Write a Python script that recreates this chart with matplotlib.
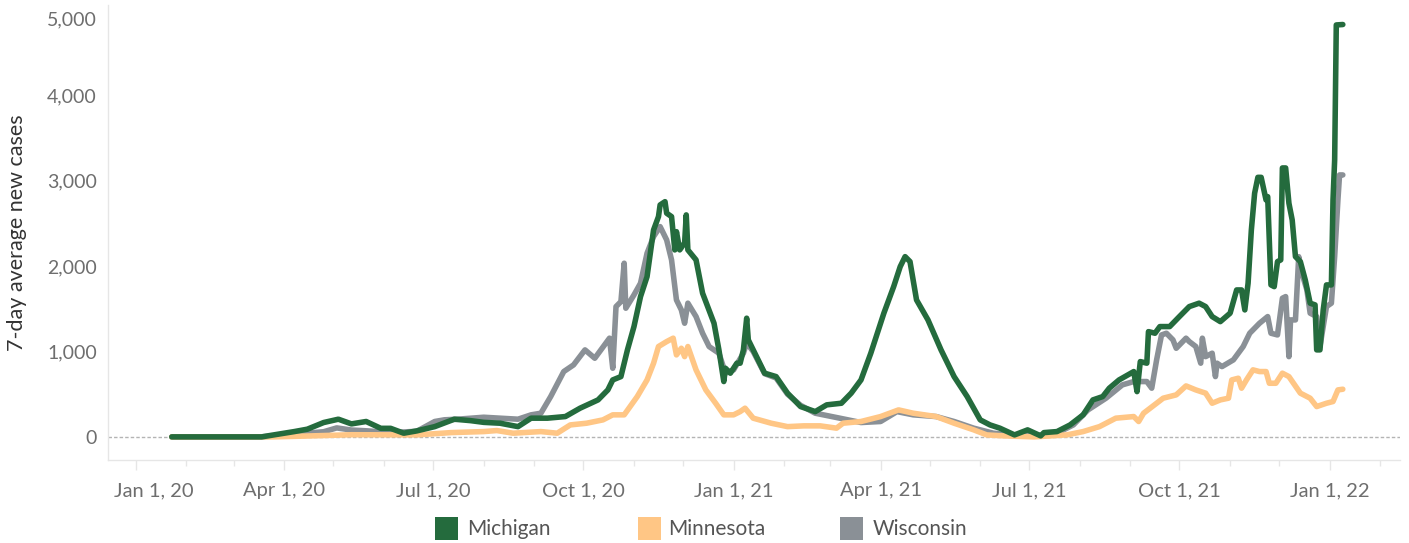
import matplotlib
matplotlib.use("Agg")
import matplotlib.pyplot as plt
import matplotlib.dates as mdates
from matplotlib.patches import Rectangle
from matplotlib.ticker import FuncFormatter
from matplotlib.transforms import ScaledTranslation
import pandas as pd

# 7-day average new cases
mi_dates = [
    "2020-01-23", "2020-03-18", "2020-04-07", "2020-04-15", "2020-04-25", "2020-05-04",
    "2020-05-12", "2020-05-21", "2020-05-30", "2020-06-05", "2020-06-13", "2020-06-21",
    "2020-07-02", "2020-07-14", "2020-07-24", "2020-08-01", "2020-08-11", "2020-08-22",
    "2020-08-30", "2020-09-09", "2020-09-20", "2020-09-29", "2020-10-10", "2020-10-16",
    "2020-10-19", "2020-10-24", "2020-10-28", "2020-11-01", "2020-11-05", "2020-11-09",
    "2020-11-13", "2020-11-16", "2020-11-17", "2020-11-20", "2020-11-21", "2020-11-24",
    "2020-11-26", "2020-11-27", "2020-11-29", "2020-12-02", "2020-12-03", "2020-12-04",
    "2020-12-09", "2020-12-13", "2020-12-20", "2020-12-23", "2020-12-26", "2020-12-27",
    "2020-12-30", "2021-01-03", "2021-01-05", "2021-01-07", "2021-01-09", "2021-01-10",
    "2021-01-13", "2021-01-20", "2021-01-27", "2021-02-03", "2021-02-11", "2021-02-20",
    "2021-02-27", "2021-03-08", "2021-03-14", "2021-03-20", "2021-03-26", "2021-04-03",
    "2021-04-09", "2021-04-13", "2021-04-16", "2021-04-19", "2021-04-23", "2021-04-30",
    "2021-05-08", "2021-05-16", "2021-05-24", "2021-06-01", "2021-06-07", "2021-06-13",
    "2021-06-22", "2021-06-30", "2021-07-08", "2021-07-10", "2021-07-18", "2021-07-26",
    "2021-08-03", "2021-08-09", "2021-08-15", "2021-08-19", "2021-08-25", "2021-09-03",
    "2021-09-05", "2021-09-07", "2021-09-11", "2021-09-12", "2021-09-16", "2021-09-19",
    "2021-09-25", "2021-10-01", "2021-10-07", "2021-10-13", "2021-10-17", "2021-10-21",
    "2021-10-26", "2021-11-01", "2021-11-05", "2021-11-08", "2021-11-10", "2021-11-12",
    "2021-11-14", "2021-11-16", "2021-11-18", "2021-11-20", "2021-11-23", "2021-11-24",
    "2021-11-26", "2021-11-28", "2021-11-30", "2021-12-02", "2021-12-03", "2021-12-05",
    "2021-12-07", "2021-12-09", "2021-12-11", "2021-12-14", "2021-12-17", "2021-12-20",
    "2021-12-23", "2021-12-24", "2021-12-26", "2021-12-28", "2021-12-30", "2022-01-02",
    "2022-01-03", "2022-01-04", "2022-01-05", "2022-01-09",
]
mi_values = [
    0, 0, 62, 90, 168, 207,
    152, 180, 100, 100, 43, 70,
    120, 207, 190, 170, 160, 120,
    219, 219, 238, 336, 433, 550,
    667, 706, 1019, 1292, 1643, 1877,
    2424, 2580, 2717, 2755, 2620, 2580,
    2190, 2404, 2190, 2272, 2600, 2190,
    2073, 1683, 1331, 1019, 648, 804,
    746, 863, 863, 1019, 1390, 1136,
    1019, 746, 706, 512, 355, 296,
    375, 394, 512, 667, 980, 1449,
    1760, 1994, 2111, 2053, 1604, 1370,
    1019, 706, 472, 199, 140, 102,
    23, 82, 12, 50, 62, 140,
    258, 433, 472, 570, 667, 765,
    530, 882, 863, 1233, 1214, 1292,
    1292, 1410, 1526, 1566, 1526, 1409,
    1350, 1449, 1721, 1721, 1487, 1800,
    2424, 2854, 3040, 3040, 2775, 2814,
    1780, 1760, 2053, 2073, 3150, 3150,
    2737, 2541, 2111, 2053, 1838, 1566,
    1546, 1019, 1019, 1487, 1780, 1780,
    2775, 3244, 4825, 4830,
]

mn_dates = [
    "2020-01-23", "2020-03-25", "2020-04-15", "2020-05-12", "2020-06-21", "2020-07-12",
    "2020-08-01", "2020-08-09", "2020-08-19", "2020-09-05", "2020-09-15", "2020-09-23",
    "2020-10-03", "2020-10-13", "2020-10-19", "2020-10-26", "2020-11-03", "2020-11-09",
    "2020-11-13", "2020-11-16", "2020-11-21", "2020-11-25", "2020-11-27", "2020-11-30",
    "2020-12-02", "2020-12-04", "2020-12-09", "2020-12-15", "2020-12-21", "2020-12-26",
    "2021-01-01", "2021-01-05", "2021-01-08", "2021-01-13", "2021-01-24", "2021-02-03",
    "2021-02-13", "2021-02-23", "2021-03-05", "2021-03-09", "2021-03-20", "2021-04-01",
    "2021-04-12", "2021-04-21", "2021-05-05", "2021-05-16", "2021-05-28", "2021-06-05",
    "2021-06-15", "2021-07-04", "2021-07-24", "2021-08-03", "2021-08-13", "2021-08-23",
    "2021-09-03", "2021-09-06", "2021-09-09", "2021-09-17", "2021-09-21", "2021-09-29",
    "2021-10-05", "2021-10-11", "2021-10-17", "2021-10-21", "2021-10-26", "2021-10-31",
    "2021-11-02", "2021-11-06", "2021-11-08", "2021-11-11", "2021-11-15", "2021-11-19",
    "2021-11-23", "2021-11-25", "2021-11-29", "2021-12-03", "2021-12-07", "2021-12-14",
    "2021-12-20", "2021-12-24", "2021-12-30", "2022-01-03", "2022-01-06", "2022-01-09",
]
mn_values = [
    0, 0, 10, 25, 23, 50,
    62, 74, 43, 62, 43, 140,
    160, 199, 258, 258, 472, 667,
    863, 1058, 1116, 1156, 960, 1038,
    940, 1058, 785, 550, 394, 258,
    258, 296, 336, 219, 160, 120,
    129, 129, 102, 160, 180, 238,
    316, 277, 238, 160, 82, 23,
    12, 0, 23, 62, 120, 219,
    238, 180, 277, 394, 453, 492,
    597, 550, 512, 394, 433, 453,
    667, 687, 570, 667, 785, 765,
    765, 628, 628, 746, 706, 512,
    453, 355, 394, 414, 550, 558,
]

wi_dates = [
    "2020-01-23", "2020-03-18", "2020-04-25", "2020-05-03", "2020-05-12", "2020-05-22",
    "2020-06-05", "2020-06-21", "2020-07-02", "2020-07-08", "2020-07-16", "2020-08-01",
    "2020-08-11", "2020-08-22", "2020-08-30", "2020-09-05", "2020-09-11", "2020-09-19",
    "2020-09-25", "2020-10-02", "2020-10-08", "2020-10-17", "2020-10-19", "2020-10-21",
    "2020-10-24", "2020-10-26", "2020-10-27", "2020-11-01", "2020-11-05", "2020-11-09",
    "2020-11-13", "2020-11-17", "2020-11-21", "2020-11-24", "2020-11-27", "2020-11-30",
    "2020-12-02", "2020-12-04", "2020-12-09", "2020-12-13", "2020-12-17", "2020-12-23",
    "2020-12-27", "2021-01-01", "2021-01-07", "2021-01-09", "2021-01-13", "2021-01-20",
    "2021-01-27", "2021-02-03", "2021-02-11", "2021-02-20", "2021-03-07", "2021-03-20",
    "2021-04-01", "2021-04-11", "2021-04-21", "2021-05-05", "2021-05-16", "2021-05-28",
    "2021-06-09", "2021-06-20", "2021-07-08", "2021-07-18", "2021-07-28", "2021-08-06",
    "2021-08-17", "2021-08-27", "2021-09-03", "2021-09-11", "2021-09-14", "2021-09-17",
    "2021-09-20", "2021-09-23", "2021-09-27", "2021-09-29", "2021-10-05", "2021-10-07",
    "2021-10-11", "2021-10-14", "2021-10-15", "2021-10-17", "2021-10-21", "2021-10-23",
    "2021-10-24", "2021-10-27", "2021-11-03", "2021-11-09", "2021-11-13", "2021-11-19",
    "2021-11-24", "2021-11-26", "2021-11-30", "2021-12-03", "2021-12-05", "2021-12-07",
    "2021-12-08", "2021-12-11", "2021-12-13", "2021-12-15", "2021-12-18", "2021-12-20",
    "2021-12-24", "2021-12-26", "2021-12-28", "2021-12-30", "2022-01-02", "2022-01-04",
    "2022-01-06", "2022-01-07", "2022-01-09",
]
wi_values = [
    0, 0, 60, 105, 80, 70,
    50, 65, 180, 200, 207, 230,
    219, 207, 258, 277, 472, 765,
    843, 1019, 921, 1156, 804, 1526,
    1584, 2034, 1507, 1663, 1800, 2151,
    2346, 2463, 2307, 2073, 1604, 1487,
    1331, 1566, 1409, 1214, 1058, 980,
    746, 785, 980, 1100, 1000, 740,
    690, 500, 370, 277, 219, 168,
    180, 296, 258, 238, 180, 102,
    43, 23, 20, 43, 140, 316,
    453, 609, 648, 648, 570, 902,
    1194, 1214, 1136, 1038, 1156, 1116,
    1058, 863, 1156, 940, 980, 706,
    863, 823, 902, 1058, 1214, 1331,
    1409, 1214, 1194, 1624, 1643, 940,
    1370, 1370, 2111, 1916, 1721, 1449,
    1409, 1058, 1292, 1526, 1566, 2111,
    2775, 3068, 3068,
]

states = ["Michigan", "Minnesota", "Wisconsin"]
colors = {"Michigan": "#246b3d", "Minnesota": "#ffc685", "Wisconsin": "#8a9096"}

series = {
    "Michigan": (pd.to_datetime(mi_dates), mi_values),
    "Minnesota": (pd.to_datetime(mn_dates), mn_values),
    "Wisconsin": (pd.to_datetime(wi_dates), wi_values),
}

plt.rcParams["font.family"] = ["Lato", "DejaVu Sans"]

fig = plt.figure(figsize=(14.09, 5.43), dpi=100)
ax = fig.add_axes([0.0767, 0.153, 0.9169, 0.838])

# draw order: gray under orange, green on top
zorders = {"Wisconsin": 3, "Minnesota": 4, "Michigan": 5}
for name in ["Wisconsin", "Minnesota", "Michigan"]:
    d, v = series[name]
    ax.plot(d, v, color=colors[name], lw=4.0, solid_capstyle="round",
            solid_joinstyle="round", zorder=zorders[name])

ax.axhline(0, color="#b4b4b4", lw=1, ls=(0, (2.5, 1.5)), zorder=2)

ax.set_xlim(pd.Timestamp("2019-12-15"), pd.Timestamp("2022-02-13"))
ax.set_ylim(-270, 5060)

ax.set_yticks([0, 1000, 2000, 3000, 4000, 5000])
ax.yaxis.set_major_formatter(FuncFormatter(lambda v, p: f"{int(v):,}"))
ax.grid(axis="y", color="#efefef", lw=1.2, zorder=0)
for gl in ax.yaxis.get_gridlines():
    if gl.get_ydata()[0] == 0:
        gl.set_visible(False)

ax.xaxis.set_major_locator(mdates.MonthLocator(bymonth=[1, 4, 7, 10]))
ax.xaxis.set_minor_locator(mdates.MonthLocator())
ax.xaxis.set_major_formatter(FuncFormatter(
    lambda v, p: (lambda d: f"{d:%b} {d.day}, {d:%y}")(mdates.num2date(v))))

ax.tick_params(axis="y", length=0, pad=8, labelsize=14, labelcolor="#6e6e6e")
ax.tick_params(axis="x", which="major", length=7, width=1, color="#e6e6e6",
               pad=9, labelsize=14.5, labelcolor="#6e6e6e")
ax.tick_params(axis="x", which="minor", length=4, width=1, color="#e6e6e6")

for s in ["top", "right"]:
    ax.spines[s].set_visible(False)
for s in ["left", "bottom"]:
    ax.spines[s].set_color("#e6e6e6")
    ax.spines[s].set_linewidth(1)

ax.set_ylabel("7-day average new cases", fontsize=15.5, color="#333333")
ax.yaxis.set_label_coords(-0.0627, 0.5)

# keep edge labels inside the pane, as in the original
fig.canvas.draw()
first_x = ax.xaxis.get_major_ticks()[0].label1
first_x.set_ha("left")
first_x.set_transform(first_x.get_transform() + ScaledTranslation(-0.22, 0, fig.dpi_scale_trans))
top_y = ax.yaxis.get_major_ticks()[-1].label1
top_y.set_va("top")
top_y.set_transform(top_y.get_transform() + ScaledTranslation(0, -0.01, fig.dpi_scale_trans))

# legend along the bottom
sq_x = [0.3087, 0.4528, 0.5962]
tx_x = [0.3314, 0.4741, 0.6196]
for name, sx, tx in zip(states, sq_x, tx_x):
    fig.add_artist(Rectangle((sx, 0.0055), 0.0163, 0.0424, transform=fig.transFigure,
                             facecolor=colors[name], edgecolor="none"))
    fig.text(tx, 0.0267, name, fontsize=15, color="#555555", va="center", ha="left")

fig.savefig("out.png", dpi=100)
